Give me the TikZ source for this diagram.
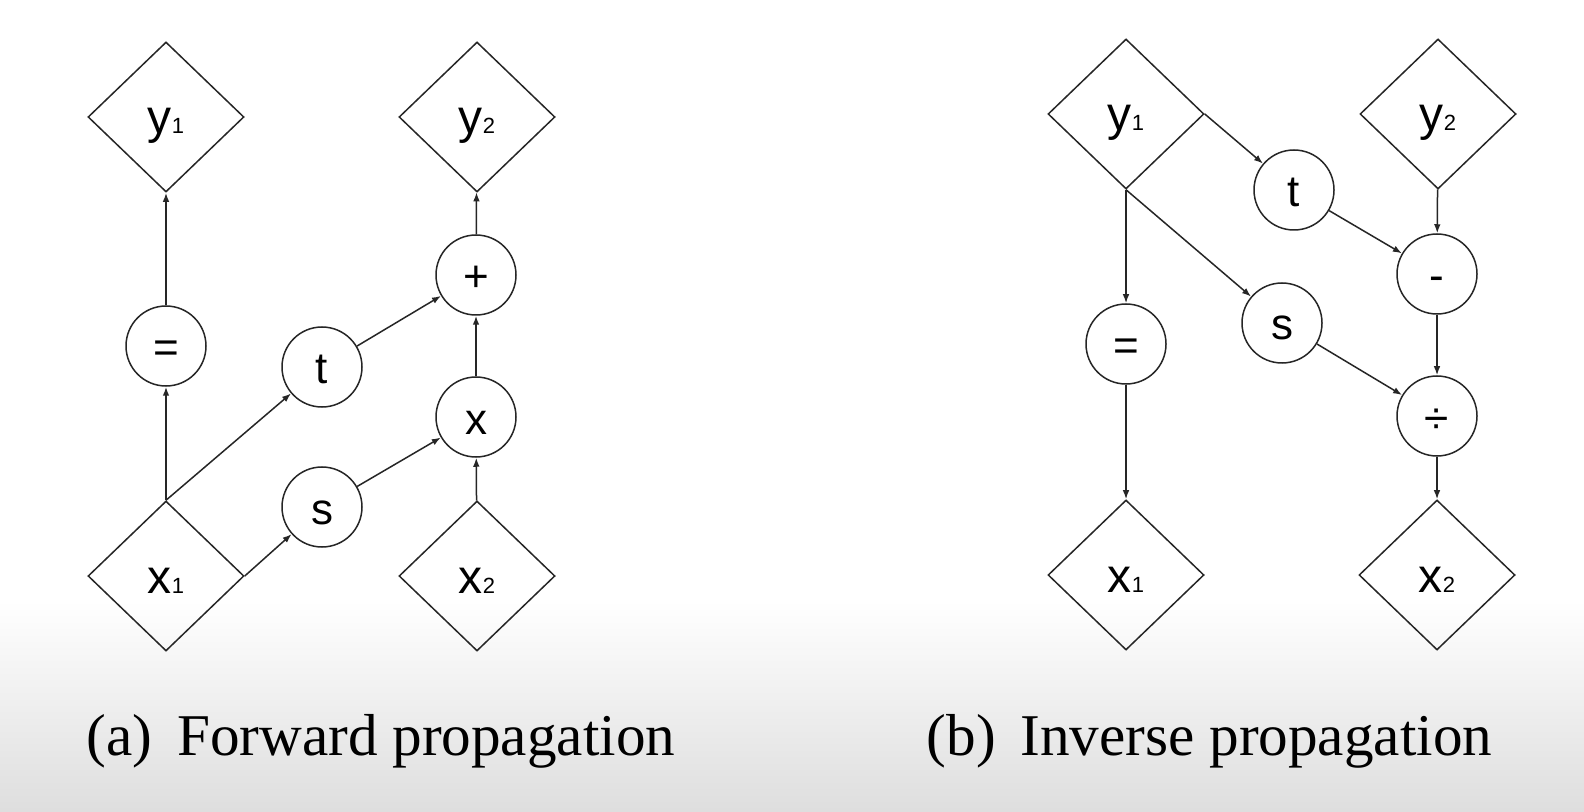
\documentclass[tikz,border=0pt]{standalone}
\usepackage{fontspec}
\setmainfont{Liberation Serif}
\newfontfamily\graphfont{Liberation Sans}
\usetikzlibrary{shapes.geometric,arrows.meta}

\newcommand{\idx}[2]{#1{\fontsize{11}{11}\selectfont #2}}

\begin{document}
\begin{tikzpicture}[x=0.5pt, y=-0.5pt, line width=0.75pt,
	var/.style={draw=black!85, diamond, minimum width=78pt, minimum height=75pt,
		inner sep=0pt, text height=17pt, text depth=0pt,
		font=\graphfont\fontsize{24}{24}\selectfont},
	op/.style={draw=black!85, circle, minimum size=40pt, inner sep=0pt,
		text height=17pt, text depth=0pt,
		font=\graphfont\fontsize{22}{22}\selectfont},
	flow/.style={draw=black!85, -{Latex[length=4.5pt, width=3.3pt]}},
	caption/.style={anchor=base west, inner sep=0pt,
		font=\fontsize{29.6}{30}\selectfont}]

	\useasboundingbox (0,0) rectangle (1584,812);
	\fill[white] (0,0) rectangle (1584,812);
	\shade[top color=white, bottom color=black!13] (0,600) rectangle (1584,812);

	% (a) forward
	\node[var] (ly1) at (166,117) {\idx{y}{1}};
	\node[var] (ly2) at (477,117) {\idx{y}{2}};
	\node[var] (lx1) at (166,576) {\idx{x}{1}};
	\node[var] (lx2) at (477,576) {\idx{x}{2}};

	\node[op] (leq)   at (166,346) {=};
	\node[op] (lt)    at (322,367) {t};
	\node[op] (ls)    at (322,507) {s};
	\node[op] (lplus) at (476,275) {+};
	\node[op] (lmul)  at (476,417) {x};

	\draw[flow] (lx1.north) -- (leq);
	\draw[flow] (leq) -- (ly1);
	\draw[flow] (lx1.north) -- (lt);
	\draw[flow] (lx1.east) -- (ls);
	\draw[flow] (lt) -- (lplus);
	\draw[flow] (ls) -- (lmul);
	\draw[flow] (lx2) -- (lmul);
	\draw[flow] (lmul) -- (lplus);
	\draw[flow] (lplus) -- (ly2);

	\node[caption] (capa) at (86,755) {(a)\, Forward propagation};

	% (b) inverse
	\node[var] (ry1) at (1126,114) {\idx{y}{1}};
	\node[var] (ry2) at (1438,114) {\idx{y}{2}};
	\node[var] (rx1) at (1126,575) {\idx{x}{1}};
	\node[var] (rx2) at (1437,575) {\idx{x}{2}};

	\node[op] (req)   at (1126,344) {=};
	\node[op] (rt)    at (1294,190) {t};
	\node[op] (rs)    at (1282,323) {s};
	\node[op] (rminus) at (1437,274) {-};
	\node[op] (rdiv)  at (1437,416) {÷};

	\draw[flow] (ry1.south) -- (req);
	\draw[flow] (req) -- (rx1);
	\draw[flow] (ry1.east) -- (rt);
	\draw[flow] (ry1.south) -- (rs);
	\draw[flow] (rt) -- (rminus);
	\draw[flow] (ry2) -- (rminus);
	\draw[flow] (rminus) -- (rdiv);
	\draw[flow] (rs) -- (rdiv);
	\draw[flow] (rdiv) -- (rx2);

	\node[caption] (capb) at (926,755) {(b)\, Inverse propagation};

\end{tikzpicture}
\end{document}
